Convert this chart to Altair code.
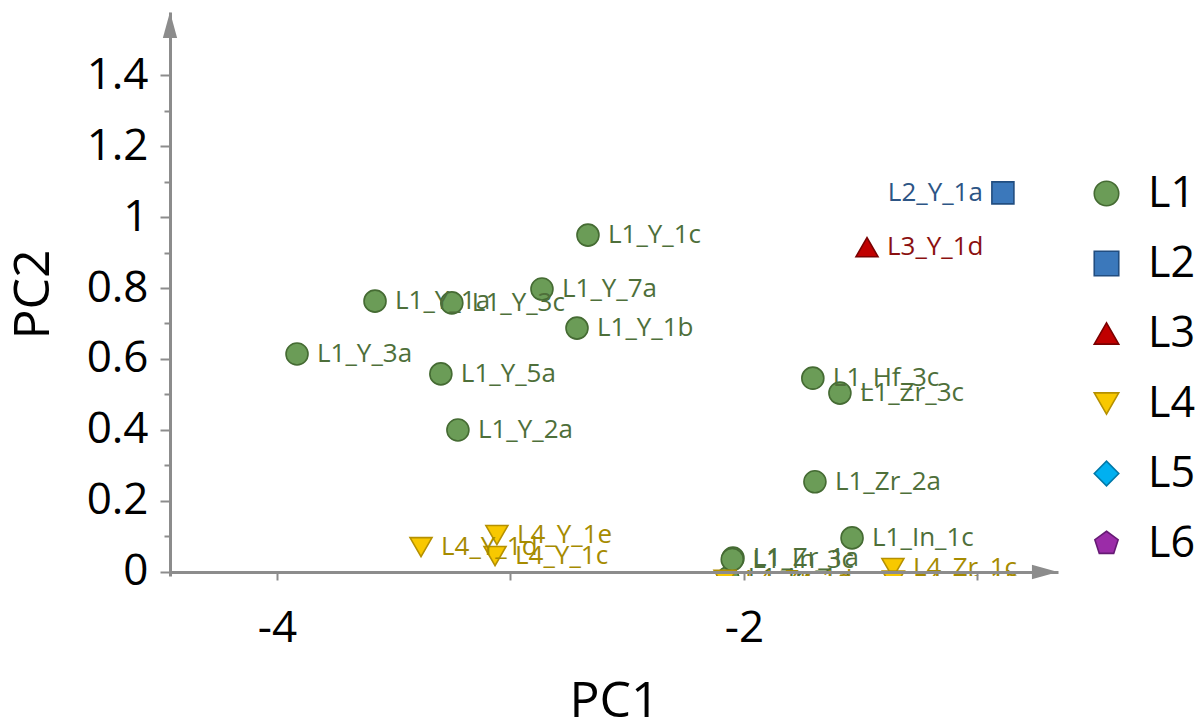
import altair as alt
import pandas as pd

# Groups and their marker styling
groups = ["L1", "L2", "L3", "L4", "L5", "L6"]
fill_colors = ["#6b9c57", "#3b78bb", "#c00000", "#f8c800", "#00b0f0", "#9b2ca8"]
stroke_colors = ["#456b33", "#214d80", "#7a0000", "#b59000", "#0078a8", "#661a74"]
label_colors = ["#4e6f3a", "#2d5585", "#8b1010", "#a68b00", "#0078a8", "#661a74"]
pentagon = "M0,-1L0.951,-0.309L0.588,0.809L-0.588,0.809L-0.951,-0.309Z"
shapes = ["circle", "square", "triangle-up", "triangle-down", "diamond", pentagon]

# PCA scores
sample = ["L1_Y_1c", "L1_Y_7a", "L1_Y_1a", "L1_Y_3c", "L1_Y_1b", "L1_Y_3a",
          "L1_Y_5a", "L1_Y_2a", "L1_Hf_3c", "L1_Zr_3c", "L1_Zr_2a", "L1_In_1c",
          "L1_Zr_1a", "L1_In_1a", "L1_In_3c", "L1_Y_8a",
          "L2_Y_1a", "L3_Y_1d",
          "L4_Y_1d", "L4_Y_1e", "L4_Y_1c", "L4_Zr_1c", "L4_Zr_1b", "L4_Zr_1d"]
group = ["L1"] * 16 + ["L2", "L3"] + ["L4"] * 6
pc1 = [-2.668, -2.865, -3.580, -3.251, -2.715, -3.914,
       -3.298, -3.225, -1.705, -1.589, -1.696, -1.537,
       -2.047, -2.069, -2.050, -3.450,
       -0.891, -1.473,
       -3.383, -3.058, -3.066, -1.362, -1.360, -2.081]
pc2 = [0.949, 0.797, 0.763, 0.758, 0.687, 0.614,
       0.558, 0.400, 0.546, 0.504, 0.254, 0.096,
       0.039, -0.017, 0.035, -0.045,
       1.068, 0.915,
       0.070, 0.104, 0.045, 0.011, -0.024, -0.022]

df = pd.DataFrame({"sample": sample, "group": group, "PC1": pc1, "PC2": pc2})

x_domain = [-4.458, -0.655]
y_domain = [-0.0113, 1.5775]
x_ticks = [-4, -3, -2, -1]
y_ticks = [round(i * 0.1, 1) for i in range(15)]

FONT = "Open Sans"
AXIS_GREY = "#8c8c8c"

x_enc = alt.X(
    "PC1:Q",
    scale=alt.Scale(domain=x_domain, nice=False, zero=False),
    axis=alt.Axis(
        title="PC1", values=x_ticks,
        labelExpr="round(datum.value) % 2 == 0 ? toString(round(datum.value)) : ''",
        tickSize=8, tickWidth=2, tickColor=AXIS_GREY,
        domainColor=AXIS_GREY, domainWidth=3, offset=-4, zindex=1,
        labelFontSize=44, labelFont=FONT, labelColor="black", labelPadding=26,
        titleFontSize=50, titleFont=FONT, titleFontWeight="normal",
        titleColor="black", titlePadding=26, grid=False,
    ),
)
y_enc = alt.Y(
    "PC2:Q",
    scale=alt.Scale(domain=y_domain, nice=False, zero=False),
    axis=alt.Axis(
        title="PC2", values=y_ticks,
        labelExpr="round(datum.value * 10) % 2 == 0 ? toString(round(datum.value * 10) / 10) : ''",
        tickSize={"condition": {"test": "round(datum.value * 10) % 2 == 0", "value": 10}, "value": 6},
        tickWidth=2, tickColor=AXIS_GREY,
        domainColor=AXIS_GREY, domainWidth=3, zindex=1,
        labelFontSize=44, labelFont=FONT, labelColor="black", labelPadding=12,
        titleFontSize=50, titleFont=FONT, titleFontWeight="normal",
        titleColor="black", titlePadding=28, grid=False,
    ),
)

label_color = alt.Color("group:N", scale=alt.Scale(domain=groups, range=label_colors), legend=None)

base = alt.Chart(df)

# Sample names beside each point; names near the right edge sit to the left
labels_right = base.transform_filter("datum.PC1 <= -1.2").mark_text(
    align="left", baseline="middle", dx=20, fontSize=26, font=FONT, clip=True
).encode(x=x_enc, y=y_enc, text="sample:N", color=label_color)

labels_left = base.transform_filter("datum.PC1 > -1.2").mark_text(
    align="right", baseline="middle", dx=-20, fontSize=26, font=FONT, clip=True
).encode(x=x_enc, y=y_enc, text="sample:N", color=label_color)


def group_legend():
    # blank title block keeps the entries lower down beside the plot
    return alt.Legend(
        title=" ", titleFontSize=10, titlePadding=150,
        orient="right", offset=27, padding=0,
        labelFontSize=43, labelFont=FONT, labelColor="black", labelOffset=20,
        symbolSize=600, symbolStrokeWidth=1.6, symbolOpacity=1, rowPadding=26,
    )


points = base.mark_point(filled=True, size=484, strokeWidth=1.6, opacity=1, clip=True).encode(
    x=x_enc, y=y_enc,
    fill=alt.Fill("group:N", scale=alt.Scale(domain=groups, range=fill_colors), legend=group_legend()),
    stroke=alt.Stroke("group:N", scale=alt.Scale(domain=groups, range=stroke_colors), legend=group_legend()),
    shape=alt.Shape("group:N", scale=alt.Scale(domain=groups, range=shapes), legend=group_legend()),
)

# Arrow heads at the ends of both axes
arrow_x = pd.DataFrame({"PC1": [-0.711], "PC2": [0.0]})
arrow_y = pd.DataFrame({"PC1": [x_domain[0]], "PC2": [1.541]})
arrow_right = alt.Chart(arrow_x).mark_point(
    shape="M1,0L-1,-0.55L-1,0.55Z", size=676, filled=True, color=AXIS_GREY, opacity=1
).encode(x=alt.X("PC1:Q"), y=alt.Y("PC2:Q"))
arrow_up = alt.Chart(arrow_y).mark_point(
    shape="M0,-1L0.55,1L-0.55,1Z", size=676, filled=True, color=AXIS_GREY, opacity=1
).encode(x=alt.X("PC1:Q"), y=alt.Y("PC2:Q"))

chart = alt.layer(points, labels_right, labels_left, arrow_right, arrow_up).properties(
    width=888, height=564,
    autosize=alt.AutoSizeParams(type="none"),
    padding={"left": 170, "top": 12, "right": 144, "bottom": 148},
).configure_view(stroke=None)

chart.save("out.html", embed_options={"renderer": "svg", "actions": False})
